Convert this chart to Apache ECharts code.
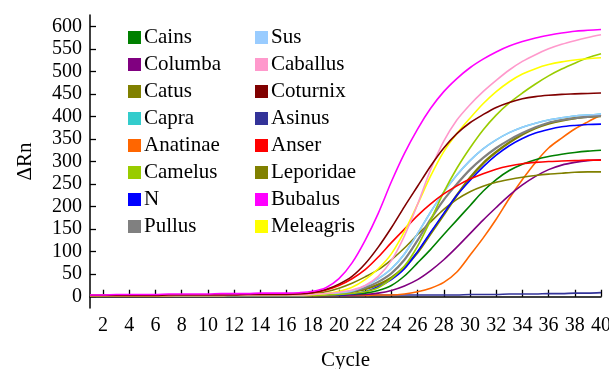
<!DOCTYPE html>
<html>
<head>
<meta charset="utf-8">
<title>Amplification curves</title>
<script src="https://cdn.jsdelivr.net/npm/echarts@6/dist/echarts.min.js"></script>
<style>
  html, body { margin: 0; padding: 0; background: #fff; }
  #chart { width: 609px; height: 369px; }
</style>
</head>
<body>
<div id="chart"></div>
<script>
const cycles = [1, 2, 3, 4, 5, 6, 7, 8, 9, 10, 11, 12, 13, 14, 15, 16, 17, 18, 19, 20,
  21, 22, 23, 24, 25, 26, 27, 28, 29, 30, 31, 32, 33, 34, 35, 36, 37, 38, 39, 40];
const xTicks = [2, 4, 6, 8, 10, 12, 14, 16, 18, 20, 22, 24, 26, 28, 30, 32, 34, 36, 38, 40];
const yTicks = [0, 50, 100, 150, 200, 250, 300, 350, 400, 450, 500, 550, 600];

// values by cycle
const cains = [3, 3, 3, 3, 3, 4, 4, 4, 4, 4, 4, 4, 4, 4, 4, 4, 4, 4, 4, 5,
  6, 8, 14, 25, 46, 75, 105, 138, 170, 202, 234, 260, 280, 294, 304, 311, 316, 320, 323, 325];
const columba = [3, 3, 3, 3, 3, 3, 3, 3, 3, 4, 4, 4, 4, 4, 4, 4, 4, 4, 4, 4,
  4, 5, 8, 14, 24, 38, 58, 82, 110, 140, 170, 198, 225, 248, 267, 282, 292, 298, 302, 304];
const catus = [2, 2, 2, 3, 3, 3, 3, 3, 3, 4, 4, 4, 4, 4, 5, 5, 5, 7, 11, 19,
  30, 44, 60, 82, 108, 138, 166, 194, 216, 233, 245, 254, 260, 265, 269, 272, 274, 276, 277, 277];
const capra = [3, 3, 3, 3, 3, 3, 3, 3, 3, 3, 3, 3, 3, 3, 3, 3, 3, 4, 5, 8,
  13, 24, 40, 62, 95, 140, 188, 232, 270, 302, 328, 348, 364, 376, 385, 392, 397, 401, 403, 405];
const anatinae = [2, 2, 2, 2, 2, 3, 3, 3, 3, 3, 3, 3, 3, 3, 3, 3, 3, 3, 3, 3,
  3, 3, 4, 4, 6, 11, 19, 32, 55, 92, 130, 172, 218, 260, 298, 330, 352, 372, 388, 403];
const camelus = [2, 2, 2, 2, 2, 2, 3, 3, 3, 3, 3, 3, 3, 3, 3, 3, 3, 3, 4, 5,
  7, 11, 20, 40, 68, 112, 170, 232, 285, 330, 370, 403, 430, 452, 472, 490, 505, 518, 530, 539];
const nControl = [3, 3, 3, 3, 3, 3, 3, 3, 3, 3, 3, 3, 3, 3, 3, 3, 3, 4, 4, 4,
  6, 11, 22, 38, 62, 100, 143, 185, 225, 258, 288, 314, 335, 351, 363, 371, 377, 380, 382, 383];
const pullus = [3, 3, 3, 3, 3, 3, 3, 3, 3, 3, 3, 3, 3, 3, 3, 3, 3, 4, 5, 7,
  12, 20, 33, 52, 82, 125, 172, 215, 250, 282, 308, 330, 348, 363, 376, 386, 392, 396, 399, 401];
const sus = [3, 3, 3, 3, 3, 3, 3, 3, 3, 3, 3, 3, 3, 3, 3, 3, 3, 4, 5, 8,
  13, 24, 40, 62, 95, 140, 188, 232, 270, 302, 328, 348, 364, 376, 385, 392, 397, 401, 403, 405];
const caballus = [3, 3, 3, 3, 3, 3, 3, 3, 3, 3, 3, 4, 4, 4, 4, 4, 4, 5, 7, 10,
  15, 25, 45, 80, 135, 205, 282, 345, 392, 426, 455, 480, 503, 522, 537, 550, 560, 568, 575, 581];
const coturnix = [3, 3, 3, 3, 3, 3, 4, 4, 4, 4, 4, 4, 5, 5, 5, 5, 6, 9, 16, 28,
  45, 73, 110, 153, 200, 245, 290, 330, 362, 386, 404, 420, 431, 439, 444, 447, 449, 450, 451, 452];
const asinus = [2, 2, 2, 2, 2, 2, 2, 2, 2, 3, 3, 3, 3, 3, 3, 3, 3, 3, 3, 3,
  3, 3, 4, 4, 4, 4, 4, 4, 4, 5, 5, 5, 6, 6, 6, 7, 7, 8, 8, 9];
const anser = [3, 3, 3, 3, 3, 3, 3, 4, 4, 4, 4, 4, 4, 4, 5, 5, 6, 9, 15, 25,
  40, 60, 88, 120, 150, 180, 206, 228, 246, 261, 273, 283, 290, 295, 298, 300, 301, 302, 303, 303];
const leporidae = [3, 3, 3, 3, 3, 3, 3, 3, 3, 3, 3, 3, 3, 3, 3, 3, 3, 4, 5, 7,
  11, 17, 27, 42, 66, 98, 140, 182, 225, 264, 296, 321, 342, 360, 374, 384, 391, 396, 399, 401];
const bubalus = [4, 4, 5, 5, 5, 5, 6, 6, 6, 6, 7, 7, 7, 8, 8, 8, 9, 12, 20, 40,
  75, 125, 185, 255, 318, 372, 418, 455, 484, 508, 527, 543, 556, 566, 574, 580, 585, 589, 591, 593];
const meleagris = [3, 3, 3, 3, 3, 3, 3, 3, 3, 3, 3, 4, 4, 4, 4, 4, 4, 5, 7, 12,
  21, 38, 62, 95, 145, 205, 268, 322, 362, 396, 428, 455, 477, 494, 506, 515, 521, 525, 528, 530];

const leftNames = ["Cains", "Columba", "Catus", "Capra", "Anatinae", "Camelus", "N", "Pullus"];
const rightNames = ["Sus", "Caballus", "Coturnix", "Asinus", "Anser", "Leporidae", "Bubalus", "Meleagris"];

const curves = [
  { name: "Asinus", color: "#333399", values: asinus },
  { name: "Capra", color: "#33CCCC", values: capra },
  { name: "Anatinae", color: "#FF6600", values: anatinae },
  { name: "Columba", color: "#800080", values: columba },
  { name: "Cains", color: "#008000", values: cains },
  { name: "Catus", color: "#808000", values: catus },
  { name: "Leporidae", color: "#808000", values: leporidae, width: 2.4 },
  { name: "N", color: "#0000FF", values: nControl },
  { name: "Pullus", color: "#808080", values: pullus, width: 2.2 },
  { name: "Sus", color: "#99CCFF", values: sus },
  { name: "Camelus", color: "#99CC00", values: camelus },
  { name: "Anser", color: "#FF0000", values: anser },
  { name: "Meleagris", color: "#FFFF00", values: meleagris },
  { name: "Caballus", color: "#FF99CC", values: caballus },
  { name: "Coturnix", color: "#800000", values: coturnix },
  { name: "Bubalus", color: "#FF00FF", values: bubalus }
];

const font = "Liberation Serif";
const tickText = { fontFamily: font, fontSize: 20, color: "#000" };
const nameText = { fontFamily: font, fontSize: 21, color: "#000" };

function legendColumn(names, left) {
  return {
    data: names,
    orient: "vertical",
    left: left,
    top: 27,
    padding: 0,
    itemGap: 6,
    itemWidth: 13,
    itemHeight: 13,
    icon: "rect",
    selectedMode: false,
    textStyle: { ...nameText, lineHeight: 21, padding: [0, 0, 0, -2] }
  };
}

const chart = echarts.init(document.getElementById("chart"), null, { renderer: "canvas" });

chart.setOption({
  animation: false,
  backgroundColor: "#fff",
  // keep the plot box where the reference has it, even if names overflow
  grid: { left: 90, right: 8, top: 15, bottom: 61, outerBoundsMode: "none", containLabel: false },
  legend: [legendColumn(leftNames, 128), legendColumn(rightNames, 255)],
  xAxis: {
    type: "value",
    min: 1,
    max: 40,
    name: "Cycle",
    nameLocation: "middle",
    nameGap: 42,
    nameTextStyle: nameText,
    axisLine: { lineStyle: { color: "#000", width: 1.5 } },
    axisTick: { inside: true, length: 7, customValues: xTicks, lineStyle: { color: "#000", width: 1.3 } },
    axisLabel: { customValues: xTicks, margin: 8, ...tickText },
    splitLine: { show: false }
  },
  yAxis: {
    type: "value",
    min: -25,
    max: 625,
    name: "ΔRn",
    nameLocation: "middle",
    nameGap: 54,
    nameRotate: 90,
    nameTextStyle: nameText,
    axisLine: { show: true, lineStyle: { color: "#000", width: 1.5 } },
    axisTick: { show: true, inside: true, length: 6, customValues: yTicks, lineStyle: { color: "#000", width: 1.3 } },
    axisLabel: { customValues: yTicks, margin: 8, ...tickText },
    splitLine: { show: false }
  },
  series: curves.map((c) => ({
    name: c.name,
    type: "line",
    data: cycles.map((cy, i) => [cy, c.values[i]]),
    smooth: 0.3,
    showSymbol: false,
    color: c.color,
    itemStyle: { color: c.color },
    lineStyle: { color: c.color, width: c.width || 1.6 }
  }))
});
</script>
</body>
</html>
